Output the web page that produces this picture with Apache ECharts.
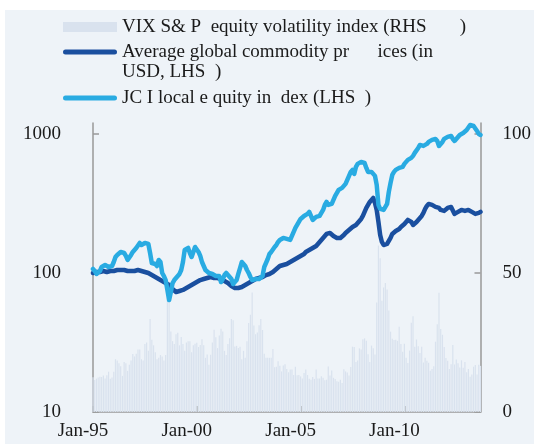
<!DOCTYPE html>
<html>
<head>
<meta charset="utf-8">
<script src="https://cdn.jsdelivr.net/npm/echarts@6/dist/echarts.min.js"></script>
<style>
  html, body { margin: 0; padding: 0; background: #ffffff; }
  #panel { position: absolute; left: 5px; top: 10px; width: 529px; height: 434px; background: #EEF3F8; }
  #chart { position: absolute; left: 0; top: 0; width: 534px; height: 444px; }
</style>
</head>
<body>
<div id="panel"></div>
<div id="chart"></div>
<script>
// ---- data ----
const startYear = 1995;
const monthCount = 225; // Jan-95 .. Sep-13
const monthNames = ['Jan','Feb','Mar','Apr','May','Jun','Jul','Aug','Sep','Oct','Nov','Dec'];
const categories = [];
for (let i = 0; i < monthCount; i++) {
  const y = startYear + Math.floor(i / 12);
  categories.push(monthNames[i % 12] + '-' + String(y % 100).padStart(2, '0'));
}
const xTickLabels = ['Jan-95', 'Jan-00', 'Jan-05', 'Jan-10'];
const leftTicks = [10, 100, 1000];
const rightTicks = [0, 50, 100];

const nameVix = 'VIX S& P  equity volatility index (RHS       )';
const nameCommodity = 'Average global commodity pr      ices (in\nUSD, LHS  )';
const nameJci = 'JC I local e quity in  dex (LHS  )';

// VIX (RHS), monthly
const vix = [
  12.5, 11.5, 12.0, 12.4, 12.7, 12.6, 13.1, 12.1, 13.2, 14.5, 12.0, 12.4,
  14.5, 19.0, 18.5, 17.5, 16.5, 13.0, 18.0, 17.5, 14.8, 17.0, 18.5, 20.9,
  20.0, 21.0, 22.5, 22.5, 19.0, 18.5, 24.5, 25.0, 22.0, 33.5, 26.0, 24.0,
  21.5, 19.0, 19.5, 20.5, 20.0, 18.5, 20.5, 41.0, 40.0, 29.0, 25.5, 24.5,
  28.0, 28.5, 24.0, 27.0, 24.5, 22.0, 25.0, 25.5, 25.5, 21.5, 24.0, 24.6,
  24.9, 23.4, 24.1, 26.2, 24.0, 19.5, 20.7, 17.0, 20.6, 25.0, 29.6, 26.9,
  23.0, 27.5, 30.0, 29.0, 22.0, 20.5, 24.5, 26.5, 33.5, 33.0, 23.6, 23.8,
  23.0, 23.5, 19.0, 22.0, 19.5, 25.5, 32.0, 35.0, 43.0, 31.1, 28.0, 28.6,
  31.2, 33.5, 29.5, 21.0, 19.5, 19.5, 19.5, 19.5, 22.7, 16.1, 16.3, 18.3,
  16.6, 14.6, 16.7, 17.2, 15.5, 14.3, 15.3, 15.3, 13.3, 16.3, 13.2, 13.3,
  12.8, 12.1, 14.0, 15.3, 13.3, 12.0, 11.6, 12.6, 11.9, 15.3, 12.1, 12.1,
  12.9, 12.3, 11.4, 11.6, 16.4, 13.1, 14.9, 12.3, 11.9, 11.1, 10.9, 11.6,
  10.4, 15.4, 14.6, 14.2, 13.1, 16.2, 23.5, 23.4, 18.0, 18.5, 22.9, 22.5,
  26.2, 26.5, 25.6, 20.8, 18.0, 23.9, 22.9, 20.7, 39.4, 59.9, 55.3, 40.0,
  44.8, 46.4, 44.1, 36.5, 28.9, 26.4, 25.9, 26.0, 25.6, 30.7, 24.5, 21.7,
  24.6, 19.5, 17.6, 22.1, 32.1, 34.5, 23.5, 26.1, 23.7, 21.2, 23.5, 17.8,
  19.5, 18.4, 17.7, 14.8, 15.5, 16.5, 25.3, 31.6, 42.9, 29.9, 27.8, 23.4,
  19.4, 18.4, 15.5, 17.2, 24.1, 17.1, 18.9, 17.5, 16.0, 18.6, 15.9, 18.0,
  14.3, 15.5, 12.7, 13.5, 16.3, 16.9, 13.5, 17.0, 16.6
];

// Average global commodity prices (USD, LHS, log)
const commodity = [
  100, 100, 101.7, 101.7, 101.7, 103.4, 103.4, 101.7, 101.7, 103.4, 103.4, 103.4,
  103.4, 103.4, 105.1, 105.1, 105.1, 106.9, 105.1, 103.4, 103.4, 103.4, 103.4, 103.4,
  103.4, 105.1, 105.1, 105.1, 103.4, 103.4, 101.7, 101.7, 100, 98.4, 96.7, 95.1,
  93.6, 92.0, 90.5, 89.0, 87.6, 86.1, 84.7, 83.3, 82.0, 79.3, 76.7, 75.5,
  73.0, 74.2, 74.2, 75.5, 75.5, 76.7, 78.0, 79.3, 80.6, 82.0, 83.3, 84.7,
  86.1, 87.6, 89.0, 90.5, 90.5, 92.0, 92.0, 93.6, 93.6, 93.6, 92.0, 92.0,
  92.0, 92.0, 90.5, 89.0, 87.6, 86.1, 84.7, 82.0, 80.6, 79.3, 78.0, 78.0,
  78.0, 78.0, 79.3, 80.6, 82.0, 83.3, 84.7, 86.1, 87.6, 89.0, 90.5, 92.0,
  92.0, 93.6, 93.6, 95.1, 96.7, 96.7, 98.4, 100, 101.7, 103.4, 106.9, 108.6,
  112.3, 112.3, 114.2, 116.1, 116.1, 118.0, 120.0, 122.0, 124.1, 126.1, 128.2, 130.4,
  132.6, 134.8, 137.0, 141.7, 146.4, 146.4, 148.9, 151.4, 153.9, 156.5, 161.8, 164.5,
  172.9, 178.7, 184.7, 191.0, 194.2, 194.2, 191.0, 184.7, 178.7, 178.7, 178.7, 178.7,
  181.7, 187.8, 194.2, 200.7, 204.1, 207.5, 214.5, 218.1, 221.7, 229.2, 236.9, 244.9,
  257.4, 275.1, 293.9, 308.9, 324.7, 335.6, 347.0, 319.3, 284.3, 233.0, 187.8, 167.2,
  159.1, 159.1, 161.8, 164.5, 178.7, 191.0, 197.4, 200.7, 204.1, 207.5, 214.5, 221.7,
  225.4, 233.0, 240.9, 240.9, 233.0, 221.7, 225.4, 233.0, 240.9, 249.0, 257.4, 270.5,
  289.1, 303.8, 314.1, 319.3, 308.9, 303.8, 298.8, 298.8, 293.9, 284.3, 284.3, 279.7,
  289.1, 293.9, 298.8, 298.8, 289.1, 266.1, 261.7, 275.1, 284.3, 284.3, 279.7, 279.7,
  279.7, 284.3, 279.7, 275.1, 270.5, 266.1, 266.1, 270.5, 275.1
];

// JCI local equity index (LHS, log)
const jci = [
  106.9, 103.4, 98.4, 96.7, 103.4, 110.5, 114.2, 114.2, 112.3, 110.5, 112.3, 112.3,
  120.0, 130.4, 134.8, 137.0, 141.7, 144.0, 139.3, 132.6, 124.1, 128.2, 134.8, 141.7,
  146.4, 151.4, 156.5, 164.5, 159.1, 156.5, 164.5, 170.0, 161.8, 139.3, 118.0, 120.0,
  116.1, 112.3, 124.1, 120.0, 100, 95.1, 89.0, 75.5, 63.9, 73.0, 84.7, 89.0,
  92.0, 93.6, 98.4, 105.1, 120.0, 146.4, 148.9, 151.4, 139.3, 130.4, 141.7, 153.9,
  151.4, 141.7, 132.6, 120.0, 112.3, 105.1, 108.6, 100, 101.7, 98.4, 96.7, 95.1,
  96.7, 95.1, 86.1, 90.5, 96.7, 100, 96.7, 93.6, 90.5, 83.3, 84.7, 89.0,
  98.4, 108.6, 120.0, 118.0, 112.3, 105.1, 100, 93.6, 89.0, 86.1, 90.5, 92.0,
  90.5, 89.0, 95.1, 110.5, 118.0, 126.1, 137.0, 141.7, 146.4, 153.9, 159.1, 167.2,
  172.9, 178.7, 178.7, 172.9, 175.8, 178.7, 172.9, 184.7, 197.4, 211.0, 221.7, 233.0,
  244.9, 249.0, 257.4, 261.7, 266.1, 275.1, 270.5, 240.9, 244.9, 253.2, 257.4, 257.4,
  261.7, 284.3, 308.9, 324.7, 308.9, 308.9, 314.1, 335.6, 358.7, 376.9, 396.1, 402.8,
  409.5, 416.3, 437.6, 467.6, 499.6, 533.8, 551.8, 516.4, 579.9, 609.4, 629.9, 629.9,
  629.9, 619.6, 570.4, 533.8, 542.7, 533.8, 533.8, 499.6, 430.4, 308.9, 289.1, 284.3,
  284.3, 298.8, 314.1, 383.2, 444.9, 507.9, 533.8, 551.8, 561.0, 570.4, 579.9, 579.9,
  609.4, 629.9, 651.2, 673.1, 673.1, 695.8, 731.2, 755.8, 794.3, 834.8, 834.8, 821.1,
  807.6, 848.7, 877.3, 891.9, 906.8, 906.8, 922.0, 891.9, 821.1, 834.8, 877.3, 922.0,
  937.4, 953.0, 968.9, 968.9, 922.0, 891.9, 922.0, 953.0, 985.1, 1000, 1017, 1034,
  1069, 1105, 1161, 1181, 1142, 1105, 1052, 1000, 985
];

// ---- chart ----
const FONT = "'Liberation Serif', 'DejaVu Serif', serif";
const TEXT = '#1a1a1a';
const AXIS = '#999999';
const C_VIX = '#D9E2EE';
const C_COM = '#1A4F9F';
const C_JCI = '#29ABE2';
const LINE_ICON = 'path://M2.5,0H51.5A2.5,2.5,0,0,1,51.5,5H2.5A2.5,2.5,0,0,1,2.5,0Z';

const chart = echarts.init(document.getElementById('chart'), null, { renderer: 'canvas' });

const legendBase = {
  orient: 'vertical',
  left: 63,
  padding: 0,
  itemWidth: 54,
  selectedMode: false,
  textStyle: { fontFamily: FONT, fontSize: 19, color: TEXT, lineHeight: 20 }
};

chart.setOption({
  animation: false,
  backgroundColor: 'transparent',
  legend: [
    Object.assign({}, legendBase, {
      top: 17,
      itemHeight: 10,
      data: [{ name: nameVix, icon: 'rect', itemStyle: { color: C_VIX } }]
    }),
    Object.assign({}, legendBase, {
      top: 22,
      itemHeight: 5,
      formatter: name => ' \n' + name,
      data: [{ name: nameCommodity, icon: LINE_ICON, itemStyle: { color: C_COM } }]
    }),
    Object.assign({}, legendBase, {
      top: 88,
      itemHeight: 5,
      data: [{ name: nameJci, icon: LINE_ICON, itemStyle: { color: C_JCI } }]
    })
  ],
  grid: { left: 93, right: 51, top: 123, bottom: 32, containLabel: false },
  xAxis: {
    type: 'category',
    data: categories,
    boundaryGap: false,
    axisLine: { lineStyle: { color: AXIS, width: 1.5 } },
    axisTick: {
      inside: true, length: 6,
      interval: (i, v) => xTickLabels.includes(v),
      lineStyle: { color: AXIS, width: 1.5 }
    },
    axisLabel: {
      interval: (i, v) => xTickLabels.includes(v),
      fontFamily: FONT, fontSize: 19, color: TEXT,
      margin: 10,
      padding: [0, 20, 0, 0]
    },
    splitLine: { show: false }
  },
  yAxis: [
    {
      type: 'log', logBase: 10, min: 10, max: 1200,
      position: 'left',
      axisLine: { show: true, lineStyle: { color: AXIS, width: 1.5 } },
      axisTick: { show: true, inside: true, length: 6, customValues: leftTicks, lineStyle: { color: AXIS, width: 1.5 } },
      axisLabel: {
        customValues: leftTicks,
        fontFamily: FONT, fontSize: 19, color: TEXT, margin: 32,
        formatter: v => String(Math.round(v))
      },
      splitLine: { show: false }
    },
    {
      type: 'value', min: 0, max: 104,
      position: 'right',
      axisLine: { show: true, lineStyle: { color: AXIS, width: 1.5 } },
      axisTick: { show: true, inside: true, length: 6, customValues: rightTicks, lineStyle: { color: AXIS, width: 1.5 } },
      axisLabel: {
        customValues: rightTicks,
        fontFamily: FONT, fontSize: 19, color: TEXT, margin: 22, align: 'left'
      },
      splitLine: { show: false }
    }
  ],
  series: [
    {
      name: nameVix, type: 'bar', yAxisIndex: 1,
      data: vix, barWidth: 1.2,
      itemStyle: { color: C_VIX },
      z: 1
    },
    {
      name: nameCommodity, type: 'line', yAxisIndex: 0,
      data: commodity, symbol: 'none', smooth: false,
      lineStyle: { color: C_COM, width: 4.5, join: 'round', cap: 'round' },
      itemStyle: { color: C_COM },
      clip: false,
      z: 3
    },
    {
      name: nameJci, type: 'line', yAxisIndex: 0,
      data: jci, symbol: 'none', smooth: false,
      lineStyle: { color: C_JCI, width: 4.5, join: 'round', cap: 'round' },
      itemStyle: { color: C_JCI },
      clip: false,
      z: 4
    }
  ]
});
</script>
</body>
</html>
